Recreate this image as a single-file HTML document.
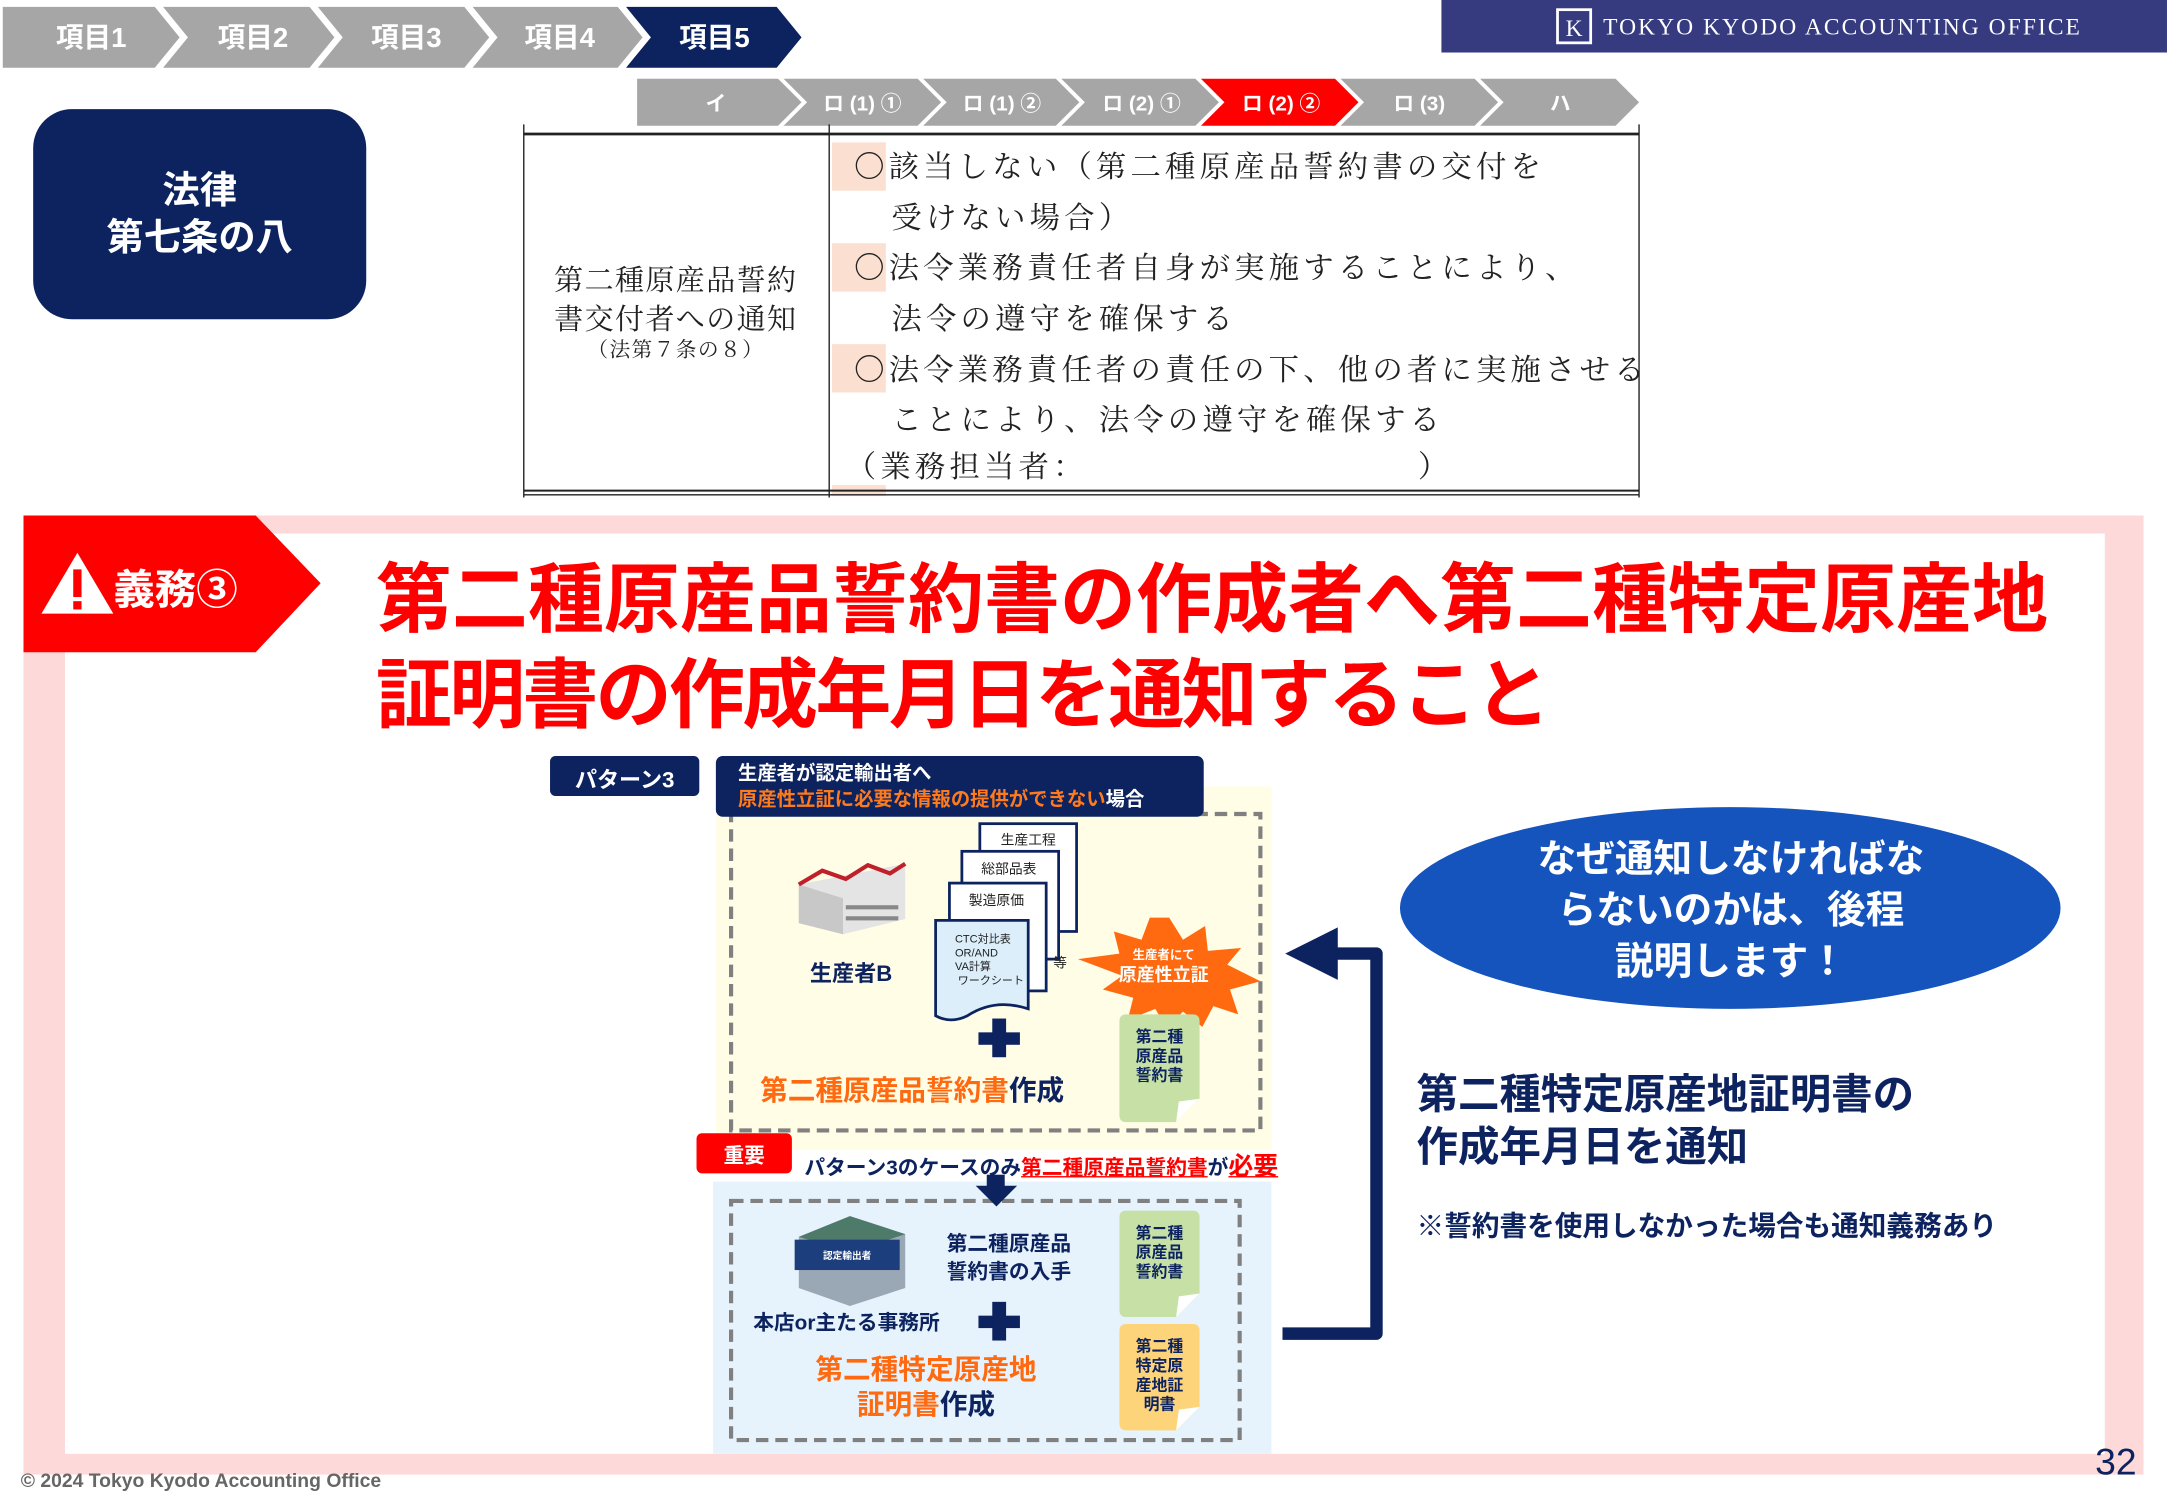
<!DOCTYPE html>
<html><head><meta charset="utf-8"><style>
*{margin:0;padding:0;box-sizing:border-box}
body{width:2167px;height:1500px;overflow:hidden;background:#fff}
#s{position:absolute;left:0;top:0;width:1568px;height:1085px;transform:scale(1.382);transform-origin:0 0;font-family:"Liberation Sans","Noto Sans CJK JP",sans-serif}
.a{position:absolute}
.b{font-weight:bold}
.n{color:#0d2360}
.o{color:#ff6a10}
.c{text-align:center}
.mc{font-family:"Liberation Serif","Noto Serif CJK SC",serif;color:#222;font-size:22px;letter-spacing:3px;white-space:nowrap}
</style></head><body><div id="s">
<svg class="a" style="left:0;top:0" width="1568" height="1085">
<g font-family="Liberation Sans,Noto Sans CJK JP,sans-serif" font-weight="bold" font-size="20" fill="#fff">
<polygon points="2,5 112,5 130,27 112,49 2,49" fill="#a6a6a6"/>
<polygon points="118,5 224,5 242,27 224,49 118,49 136,27" fill="#a6a6a6"/>
<polygon points="230,5 336,5 354,27 336,49 230,49 248,27" fill="#a6a6a6"/>
<polygon points="342,5 447,5 465,27 447,49 342,49 360,27" fill="#a6a6a6"/>
<polygon points="453,5 562,5 580,27 562,49 453,49 471,27" fill="#0d2360"/>
<text x="66" y="34" text-anchor="middle">項目1</text>
<text x="183" y="34" text-anchor="middle">項目2</text>
<text x="294" y="34" text-anchor="middle">項目3</text>
<text x="405" y="34" text-anchor="middle">項目4</text>
<text x="517" y="34" text-anchor="middle">項目5</text>
</g>
<rect x="1043" y="0" width="525" height="38" fill="#363b80"/>
<rect x="1127" y="7" width="24" height="24" fill="none" stroke="#fff" stroke-width="2"/>
<text x="1139" y="26" font-family="Liberation Serif,serif" font-size="17" fill="#fff" text-anchor="middle">K</text>
<text x="1160" y="25" font-family="Liberation Serif,serif" font-size="17" fill="#fff" textLength="345">TOKYO KYODO ACCOUNTING OFFICE</text>
<g font-family="Liberation Sans,Noto Sans CJK JP,sans-serif" font-weight="bold" font-size="15" fill="#fff">
<polygon points="461,57 563,57 580,74 563,91 461,91" fill="#a6a6a6"/>
<polygon points="567,57 664,57 681,74 664,91 567,91 584,74" fill="#a6a6a6"/>
<polygon points="668,57 764,57 781,74 764,91 668,91 685,74" fill="#a6a6a6"/>
<polygon points="768,57 865,57 882,74 865,91 768,91 785,74" fill="#a6a6a6"/>
<polygon points="869,57 966,57 983,74 966,91 869,91 886,74" fill="#ff0000"/>
<polygon points="970,57 1067,57 1084,74 1067,91 970,91 987,74" fill="#a6a6a6"/>
<polygon points="1071,57 1169,57 1186,74 1169,91 1071,91 1088,74" fill="#a6a6a6"/>
<text x="518" y="80" text-anchor="middle">イ</text>
<text x="624" y="80" text-anchor="middle">ロ (1) ①</text>
<text x="725" y="80" text-anchor="middle">ロ (1) ②</text>
<text x="826" y="80" text-anchor="middle">ロ (2) ①</text>
<text x="927" y="80" text-anchor="middle">ロ (2) ②</text>
<text x="1027" y="80" text-anchor="middle">ロ (3)</text>
<text x="1129" y="80" text-anchor="middle">ハ</text>
</g>
<rect x="24" y="79" width="241" height="152" rx="28" fill="#0d2360"/>
<rect x="602" y="103" width="39" height="35" fill="#fbe0d2"/>
<rect x="602" y="176" width="39" height="35" fill="#fbe0d2"/>
<rect x="602" y="249" width="39" height="35" fill="#fbe0d2"/>
<rect x="602" y="351" width="39" height="8" fill="#fbe0d2"/>
<line x1="379" y1="97" x2="1186" y2="97" stroke="#222" stroke-width="2"/>
<line x1="379" y1="355" x2="1186" y2="355" stroke="#222" stroke-width="1.5"/>
<line x1="379" y1="358" x2="1186" y2="358" stroke="#222" stroke-width="1"/>
<line x1="379" y1="90" x2="379" y2="360" stroke="#222" stroke-width="1"/>
<line x1="600" y1="90" x2="600" y2="360" stroke="#222" stroke-width="1"/>
<line x1="1186" y1="90" x2="1186" y2="360" stroke="#222" stroke-width="1"/>
<path d="M17,373 H1551 V1067 H17 Z M47,386 V1052 H1523 V386 Z" fill="#fdd9d9" fill-rule="evenodd"/>
<polygon points="17,373 185,373 232,422 185,472 17,472" fill="#ff0000"/>
<polygon points="56,400 82,444 30,444" fill="#fff"/>
<rect x="53" y="412" width="6" height="20" fill="#ff0000"/>
<rect x="53" y="435" width="6" height="6" fill="#ff0000"/>
<text x="82" y="437" font-family="Liberation Sans,Noto Sans CJK JP,sans-serif" font-weight="bold" font-size="30" fill="#fff">義務③</text>
<rect x="518" y="569" width="402" height="263" fill="#fffde6"/>
<rect x="516" y="855" width="404" height="197" fill="#e6f3fc"/>
<rect x="529" y="589" width="383" height="229" fill="none" stroke="#808080" stroke-width="3" stroke-dasharray="9,5"/>
<rect x="529" y="869" width="368" height="173" fill="none" stroke="#808080" stroke-width="3" stroke-dasharray="9,5"/>
<rect x="398" y="547" width="108" height="29" rx="4" fill="#0d2360"/>
<rect x="518" y="547" width="353" height="44" rx="5" fill="#0d2360"/>
<polygon points="578,640 655,625 655,665 610,676 578,668" fill="#e4e4e4"/>
<polygon points="578,640 610,650 610,676 578,668" fill="#c8c8c8"/>
<polyline points="578,640 595,630 612,636 628,626 644,632 655,625" fill="none" stroke="#c0202a" stroke-width="3"/>
<rect x="612" y="655" width="38" height="3" fill="#888"/><rect x="612" y="663" width="38" height="3" fill="#888"/>
<rect x="709" y="596" width="70" height="78" fill="#fff" stroke="#0d2360" stroke-width="2"/>
<rect x="696" y="616" width="70" height="78" fill="#fff" stroke="#0d2360" stroke-width="2"/>
<rect x="687" y="639" width="70" height="78" fill="#fff" stroke="#0d2360" stroke-width="2"/>
<path d="M677,666 H744 V730 Q720,722 700,735 Q688,741 677,735 Z" fill="#dbeefa" stroke="#0d2360" stroke-width="2"/>
<g font-family="Liberation Sans,Noto Sans CJK JP,sans-serif" font-size="10" fill="#222">
<text x="724" y="611">生産工程</text><text x="710" y="632">総部品表</text><text x="701" y="655">製造原価</text>
<text x="691" y="682" font-size="8">CTC対比表</text><text x="691" y="692" font-size="8">OR/AND</text><text x="691" y="702" font-size="8">VA計算</text><text x="693" y="712" font-size="8">ワークシート</text>
<text x="762" y="700">等</text>
</g>
<polygon points="846,664 856,680 872,670 874,688 898,686 888,698 912,710 890,716 896,734 878,728 870,743 856,732 844,744 836,730 816,738 820,722 798,716 812,706 780,694 810,690 806,674 826,680 832,664" fill="#ff6a10"/>
<text x="842" y="694" font-family="Liberation Sans,Noto Sans CJK JP,sans-serif" font-size="9" fill="#fff" text-anchor="middle" font-weight="bold">生産者にて</text>
<text x="842" y="710" font-family="Liberation Sans,Noto Sans CJK JP,sans-serif" font-size="13" fill="#fff" text-anchor="middle" font-weight="bold">原産性立証</text>
<path d="M815,734 H863 Q868,734 868,739 V795 L851,812 H815 Q810,812 810,807 V739 Q810,734 815,734Z" fill="#c6e0a6"/>
<polygon points="851,812 868,795 853,797" fill="#fff"/>
<path d="M815,876 H863 Q868,876 868,881 V936 L851,953 H815 Q810,953 810,948 V881 Q810,876 815,876Z" fill="#c6e0a6"/>
<polygon points="851,953 868,936 853,938" fill="#fff"/>
<path d="M815,958 H863 Q868,958 868,963 V1018 L851,1035 H815 Q810,1035 810,1030 V963 Q810,958 815,958Z" fill="#fdd47a"/>
<polygon points="851,1035 868,1018 853,1020" fill="#fff"/>
<g font-family="Liberation Sans,Noto Sans CJK JP,sans-serif" font-size="11.5" font-weight="bold" fill="#0d2360" text-anchor="middle">
<text x="839" y="754">第二種</text><text x="839" y="768">原産品</text><text x="839" y="782">誓約書</text>
<text x="839" y="896">第二種</text><text x="839" y="910">原産品</text><text x="839" y="924">誓約書</text>
<text x="839" y="978">第二種</text><text x="839" y="992">特定原</text><text x="839" y="1006">産地証</text><text x="839" y="1020">明書</text>
</g>
<rect x="708" y="747" width="30" height="9" fill="#0d2360"/><rect x="718" y="737" width="10" height="28" fill="#0d2360"/>
<rect x="708" y="952" width="30" height="9" fill="#0d2360"/><rect x="718" y="942" width="10" height="28" fill="#0d2360"/>
<rect x="714" y="850" width="13" height="10" fill="#0d2360"/>
<polygon points="706,858 736,858 721,873" fill="#0d2360"/>
<rect x="504" y="820" width="69" height="29" rx="4" fill="#ff0000"/>
<polygon points="578,895 615,880 655,893 655,932 615,945 578,932" fill="#9aa7b5"/>
<polygon points="578,895 615,880 655,893 616,906" fill="#4e7a6a"/>
<rect x="575" y="897" width="76" height="22" fill="#1d3e7c"/>
<text x="613" y="911" font-family="Liberation Sans,Noto Sans CJK JP,sans-serif" font-size="7" fill="#fff" text-anchor="middle" font-weight="bold">認定輸出者</text>
<polyline points="928,965 996,965 996,690 962,690" fill="none" stroke="#0d2360" stroke-width="9" stroke-linejoin="round"/>
<polygon points="930,690 968,671 968,709" fill="#0d2360"/>
<ellipse cx="1252" cy="657" rx="239" ry="73" fill="#1553bd"/>
</svg>
<div class="a b c" style="left:24px;top:121px;width:241px;color:#fff;font-size:27px;line-height:34px">法律<br>第七条の八</div>
<div class="a c" style="left:383px;top:189px;width:212px;font-family:'Liberation Serif','Noto Serif CJK SC',serif;color:#222;font-size:21px;line-height:28px;letter-spacing:1px">第二種原産品誓約<br>書交付者への通知<div style="font-size:15px;line-height:18px">（法第７条の８）</div></div>
<div class="a mc" style="left:618px;top:104px">〇該当しない（第二種原産品誓約書の交付を</div>
<div class="a mc" style="left:645px;top:141px">受けない場合）</div>
<div class="a mc" style="left:618px;top:177px">〇法令業務責任者自身が実施することにより、</div>
<div class="a mc" style="left:645px;top:214px">法令の遵守を確保する</div>
<div class="a mc" style="left:618px;top:251px">〇法令業務責任者の責任の下、他の者に実施させる</div>
<div class="a mc" style="left:645px;top:287px">ことにより、法令の遵守を確保する</div>
<div class="a mc" style="left:612px;top:321px">（業務担当者：　　　　　　　　　　）</div>
<div class="a b" style="left:272px;top:400px;color:#ff0000;font-size:55px;line-height:69px;white-space:nowrap">第二種原産品誓約書の作成者へ第二種特定原産地<br><span style="letter-spacing:-2px">証明書の作成年月日を通知すること</span></div>
<div class="a b c" style="left:398px;top:551px;width:108px;color:#fff;font-size:16px">パターン3</div>
<div class="a b" style="left:534px;top:550px;color:#fff;font-size:14px;line-height:19px;white-space:nowrap">生産者が認定輸出者へ<br><span style="color:#ff7a1a">原産性立証に必要な情報の提供ができない</span>場合</div>
<div class="a b n" style="left:586px;top:691px;font-size:16px">生産者B</div>
<div class="a b" style="left:550px;top:773px;font-size:20px;white-space:nowrap"><span class="o">第二種原産品誓約書</span><span class="n">作成</span></div>
<div class="a b c" style="left:504px;top:825px;width:69px;color:#fff;font-size:15px">重要</div>
<div class="a b n" style="left:582px;top:830px;font-size:15px;white-space:nowrap">パターン3のケースのみ<span style="color:#ff0000;text-decoration:underline">第二種原産品誓約書</span>が<span style="color:#ff0000;text-decoration:underline;font-size:18px">必要</span></div>
<div class="a b n" style="left:685px;top:891px;font-size:15px;line-height:20px;white-space:nowrap">第二種原産品<br>誓約書の入手</div>
<div class="a b n" style="left:545px;top:946px;font-size:15px;white-space:nowrap">本店or主たる事務所</div>
<div class="a b c" style="left:570px;top:980px;width:200px;font-size:20px;line-height:25px"><span class="o">第二種特定原産地</span><br><span class="o">証明書</span><span class="n">作成</span></div>
<div class="a b c" style="left:1013px;top:603px;width:479px;color:#fff;font-size:28px;line-height:37px">なぜ通知しなければな<br>らないのかは、後程<br>説明します！</div>
<div class="a b n" style="left:1025px;top:774px;font-size:30px;line-height:38px;white-space:nowrap">第二種特定原産地証明書の<br>作成年月日を通知</div>
<div class="a b n" style="left:1025px;top:871px;font-size:20px;white-space:nowrap">※誓約書を使用しなかった場合も通知義務あり</div>
<div class="a b" style="left:15px;top:1063px;color:#666;font-size:14px">© 2024 Tokyo Kyodo Accounting Office</div>
<div class="a n" style="left:1516px;top:1043px;font-size:27px">32</div>
</div></body></html>
